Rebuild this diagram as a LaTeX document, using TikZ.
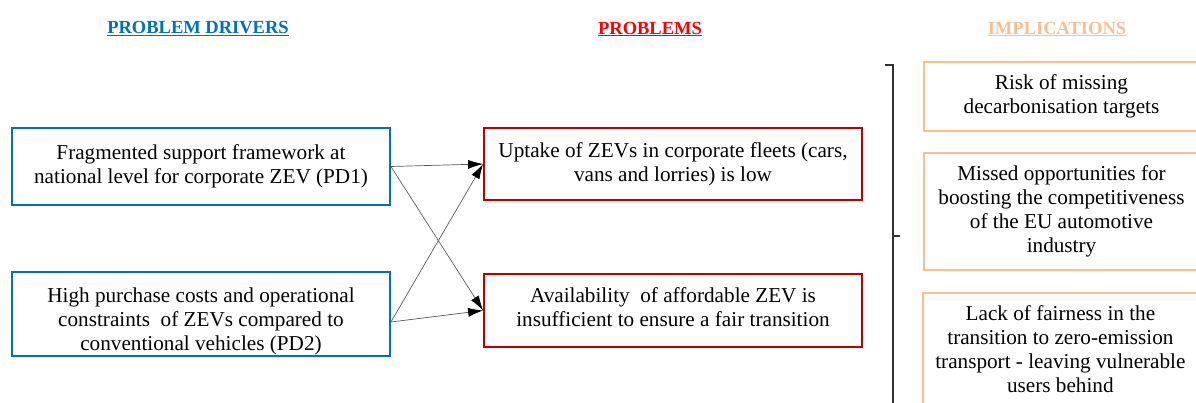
\documentclass[tikz,border=0pt]{standalone}
\usepackage{fontspec}
\setmainfont{Liberation Serif}
\usetikzlibrary{arrows.meta}
\definecolor{pdblue}{RGB}{0,112,192}
\definecolor{pred}{RGB}{192,0,0}
\definecolor{hred}{RGB}{255,0,0}
\definecolor{impor}{RGB}{250,191,143}
\definecolor{arrgray}{RGB}{90,90,90}
\newcommand\mytopgap[1]{\rule{0pt}{#1}}
\newcommand\mybotgap[1]{\rule[-#1]{0pt}{0pt}}
\begin{document}
\begin{tikzpicture}[x=1pt,y=-1pt,
  box/.style={draw, line width=1.8pt, align=center, inner sep=0pt,
    font=\fontsize{21.2}{24}\selectfont},
  pdbox/.style={box, draw=pdblue, minimum width=378pt},
  pbox/.style={box, draw=pred, minimum width=378pt},
  ibox/.style={box, draw=impor, minimum width=275pt},
  head/.style={font=\fontsize{18.5}{21}\selectfont\bfseries},
  arr/.style={draw=arrgray, line width=0.7pt, -{Latex[length=15pt,width=9pt,color=black]}},
  brk/.style={draw=black!80, line width=1.6pt}
]
\useasboundingbox (0,0) rectangle (1196,403);
\clip (0,0) rectangle (1196,403);

\node[head, text=pdblue] (h1) at (198,29) {\underline{PROBLEM DRIVERS}};
\node[head, text=hred] (h2) at (650,29) {\underline{PROBLEMS}};
\node[head, text=impor] (h3) at (1057,29) {\underline{IMPLICATIONS}};

\node[pdbox, minimum height=77pt] (pd1) at (201,166.5)
  {Fragmented support framework at\\national level for corporate ZEV (PD1)\mybotgap{3pt}};
\node[pdbox, minimum height=84pt] (pd2) at (201,314)
  {\mytopgap{29pt}High purchase costs and operational\\constraints\ \ of ZEVs compared to\\conventional vehicles (PD2)};

\node[pbox, minimum height=72pt] (p1) at (673,164)
  {Uptake of ZEVs in corporate fleets (cars,\\vans and lorries) is low};
\node[pbox, minimum height=73pt] (p2) at (673,310.5)
  {Availability\ \ of affordable ZEV is\\insufficient to ensure a fair transition\mybotgap{6pt}};

\node[ibox, minimum height=69pt] (i1) at (1061.5,96.5)
  {Risk of missing\\decarbonisation targets};
\node[ibox, minimum height=117pt] (i2) at (1061.5,211.5)
  {Missed opportunities for\\boosting the competitiveness\\of the EU automotive\\industry};
\node[ibox, minimum height=130pt, anchor=north west] (i3) at (922,292)
  {\\[-3pt]Lack of fairness in the\\transition to zero-emission\\transport - leaving vulnerable\\users behind\\[0pt]};

\draw[arr] (pd1.east) -- (p1.west);
\draw[arr] (pd1.east) -- (p2.west);
\draw[arr] ([yshift=-8pt]pd2.east) -- (p1.west);
\draw[arr] ([yshift=-8pt]pd2.east) -- (p2.west);

\coordinate (bt) at (893,65);
\coordinate (btl) at (885,65);
\coordinate (bb) at (893,405);
\coordinate (bm) at (893,236);
\coordinate (bmr) at (900,236);
\draw[brk] (btl) -- (bt) -- (bb);
\draw[brk] (bm) -- (bmr);
\end{tikzpicture}
\end{document}
